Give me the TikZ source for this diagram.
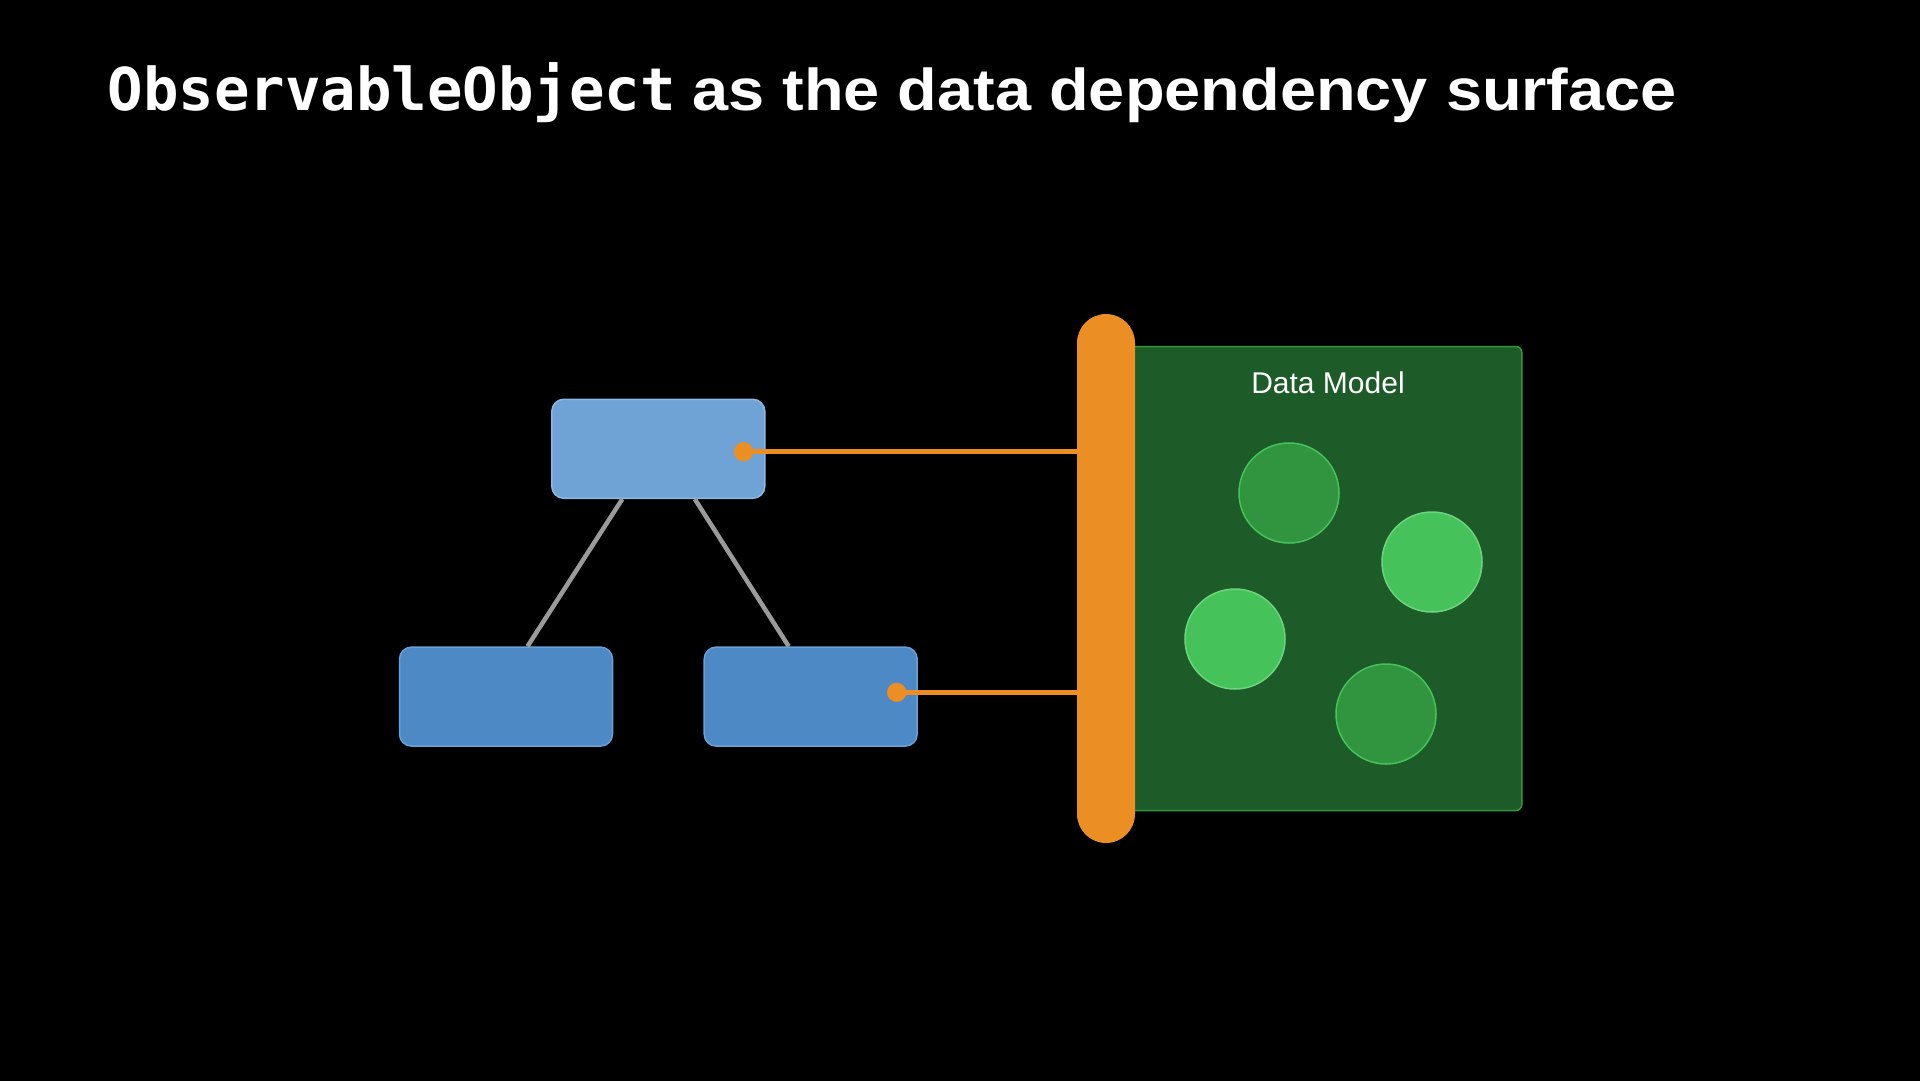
\documentclass[tikz,border=0pt]{standalone}
\usepackage{fontspec}
\setmainfont{Liberation Sans}
\newfontfamily\titlemono{DejaVu Sans Mono}
\usepackage{graphicx}
\usepackage{tikz}

\definecolor{topblue}{HTML}{6FA3D6}
\definecolor{topedge}{HTML}{8CB9E2}
\definecolor{childblue}{HTML}{4C89C5}
\definecolor{childedge}{HTML}{68A0D8}
\definecolor{surforange}{HTML}{EB8E24}
\definecolor{modelgreen}{HTML}{1D5C29}
\definecolor{modeledge}{HTML}{2E9A3E}
\definecolor{darkball}{HTML}{31943F}
\definecolor{lightball}{HTML}{45C35A}
\definecolor{balledge}{HTML}{6BD47C}
\definecolor{treegray}{HTML}{9A9A9A}

\tikzset{
 viewbox/.style={rounded corners=12pt, line width=1.5pt, minimum width=213pt, minimum height=99pt, inner sep=0pt},
 pin/.style={circle, fill=surforange, minimum size=19pt, inner sep=0pt},
 ball/.style={circle, line width=1.5pt, minimum size=100pt, inner sep=0pt},
 treeline/.style={treegray, line width=4.5pt},
 wire/.style={surforange, line width=5pt}
}

\begin{document}
\begin{tikzpicture}[x=1pt, y=-1pt]

\useasboundingbox (0,0) rectangle (1920,1080);

\fill[black] (-5,-5) rectangle (1925,1085);

\node[anchor=base west, text=white, font=\fontsize{59}{70}\selectfont\bfseries] (title) at (104,110) {{\titlemono ObservableObject} \scalebox{1.1}[1]{as the data dependency surface}};

\node[rectangle, draw=modeledge, fill=modelgreen, line width=1.5pt, rounded corners=6pt, minimum width=422pt, minimum height=464pt, inner sep=0pt] (model) at (1310.8,578.5) {};

\node[anchor=base, text=white, font=\fontsize{30}{36}\selectfont] (modelname) at (1328,393.5) {Data Model};

\node[ball, draw=lightball, fill=darkball] (ballA) at (1289,493) {};

\node[ball, draw=balledge, fill=lightball] (ballB) at (1432,562) {};

\node[ball, draw=balledge, fill=lightball] (ballC) at (1235,639) {};

\node[ball, draw=lightball, fill=darkball] (ballD) at (1386,714) {};

\node[rectangle, fill=surforange, rounded corners=29pt, minimum width=58pt, minimum height=529pt, inner sep=0pt] (surface) at (1106,578.5) {};

\node[viewbox, draw=topedge, fill=topblue] (parent) at (658.3,448.8) {};

\node[viewbox, draw=childedge, fill=childblue] (leftchild) at (506,696.6) {};

\node[viewbox, draw=childedge, fill=childblue] (rightchild) at (810.7,696.6) {};

\draw[treeline] ([xshift=-36pt]parent.south) -- ([xshift=21.5pt]leftchild.north);

\draw[treeline] ([xshift=36.5pt]parent.south) -- ([xshift=-22pt]rightchild.north);

\node[pin] (pinA) at (743.6,451.7) {};

\node[pin] (pinB) at (896.7,692.3) {};

\draw[wire] (pinA.center) -- (pinA.center -| surface.west);

\draw[wire] (pinB.center) -- (pinB.center -| surface.west);

\node[pin] at (pinA) {};

\node[pin] at (pinB) {};

\end{tikzpicture}
\end{document}
